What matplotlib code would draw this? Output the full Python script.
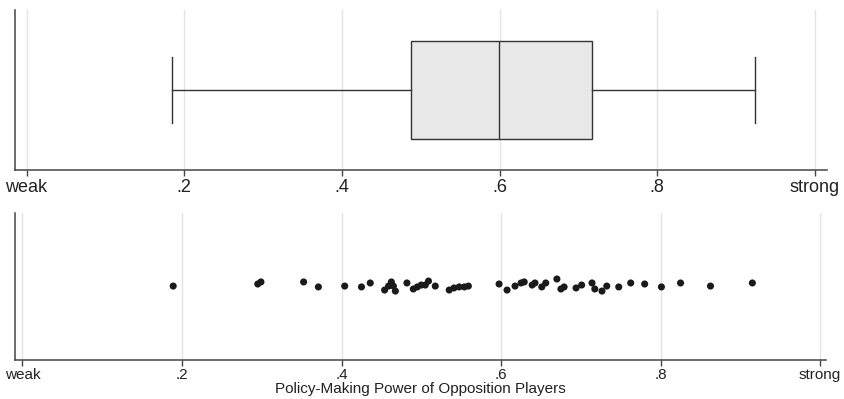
import matplotlib
matplotlib.use("Agg")
import matplotlib.pyplot as plt

plt.rcParams['font.family'] = ['Liberation Sans', 'DejaVu Sans']

# box summary
box_whislo = 0.185
box_q1 = 0.488
box_med = 0.599
box_q3 = 0.717
box_whishi = 0.924

# individual scores (bottom panel), with their vertical jitter
scores = [0.189, 0.295, 0.299, 0.3525, 0.371, 0.404, 0.425, 0.436,
          0.454, 0.459, 0.4625, 0.465, 0.4675, 0.482,
          0.490, 0.495, 0.500, 0.505, 0.509, 0.5175,
          0.535, 0.541, 0.5475, 0.554, 0.559,
          0.5975, 0.6075, 0.6175, 0.625, 0.629, 0.639, 0.6425, 0.651,
          0.656, 0.670, 0.675, 0.679, 0.694,
          0.701, 0.714, 0.7175, 0.7265, 0.7325, 0.7475, 0.7625, 0.780,
          0.801, 0.825, 0.8625, 0.915]
jitter = [0.503, 0.517, 0.531, 0.531, 0.497, 0.503, 0.497, 0.524,
          0.476, 0.503, 0.531, 0.503, 0.469, 0.524,
          0.483, 0.497, 0.510, 0.510, 0.537, 0.503,
          0.476, 0.490, 0.497, 0.497, 0.503,
          0.517, 0.476, 0.503, 0.524, 0.531, 0.510, 0.524, 0.497,
          0.524, 0.551, 0.483, 0.497, 0.490,
          0.510, 0.524, 0.483, 0.469, 0.503, 0.497, 0.524, 0.517,
          0.497, 0.524, 0.503, 0.524]

tick_pos = [0, 0.2, 0.4, 0.6, 0.8, 1]
tick_lab = ['weak', '.2', '.4', '.6', '.8', 'strong']
xlabel = 'Policy-Making Power of Opposition Players'

axis_col = '#444444'
grid_col = '#e4e4e4'


def style(ax, fs, pad):
    ax.set_xticks(tick_pos)
    ax.set_xticklabels(tick_lab, fontsize=fs, color='#222222')
    ax.set_yticks([])
    ax.grid(axis='x', color=grid_col, lw=1)
    ax.set_axisbelow(True)
    for s in ['top', 'right']:
        ax.spines[s].set_visible(False)
    for s in ['left', 'bottom']:
        ax.spines[s].set_color(axis_col)
        ax.spines[s].set_linewidth(1.1)
    ax.tick_params(axis='x', direction='out', length=4, width=1,
                   color=axis_col, pad=pad)


fig = plt.figure(figsize=(8.44, 3.99), dpi=100)

# top: box plot
ax1 = fig.add_axes([15 / 844, 1 - 170 / 399, 812 / 844, 160 / 399])
stats = [dict(whislo=box_whislo, q1=box_q1, med=box_med, q3=box_q3,
              whishi=box_whishi, fliers=[])]
ax1.bxp(stats, positions=[0.503], widths=0.6125, capwidths=0.4125,
        vert=False, patch_artist=True, showfliers=False,
        boxprops=dict(facecolor='#e8e8e8', edgecolor='#333333', lw=1),
        medianprops=dict(color='#333333', lw=1),
        whiskerprops=dict(color='#333333', lw=1),
        capprops=dict(color='#333333', lw=1))
ax1.set_xlim(-0.0147, 1.0153)
ax1.set_ylim(0, 1)
style(ax1, 13, 2.5)

# bottom: dot strip
ax2 = fig.add_axes([15 / 844, 1 - 360 / 399, 811 / 844, 147 / 399])
ax2.scatter(scores, jitter, s=26, color='#1a1a1a', edgecolor='none', zorder=3)
ax2.set_xlim(-0.0093, 1.0073)
ax2.set_ylim(0, 1)
style(ax2, 11, 1.5)
ax2.set_xlabel(xlabel, fontsize=11, color='#222222', labelpad=0)

fig.savefig('out.png', dpi=100)
